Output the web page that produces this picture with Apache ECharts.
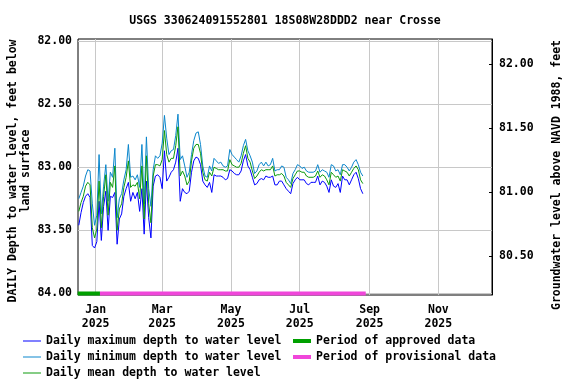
<!DOCTYPE html>
<html><head><meta charset="utf-8">
<script src="https://cdn.jsdelivr.net/npm/echarts@6/dist/echarts.min.js"></script>
<style>html,body{margin:0;padding:0;background:#fff}#c{width:576px;height:384px}</style>
</head><body><div id="c"></div>
<script>
const chartTitle = 'USGS 330624091552801 18S08W28DDD2 near Crosse';
const leftName1 = 'DAILY Depth to water level, feet below';
const leftName2 = 'land surface';
const rightName = 'Groundwater level above NAVD 1988, feet';

// daily samples, every 2nd day starting 2024-12-17
const firstSample = Date.UTC(2024, 11, 17);
const stepDays = 2;

const minDepth = [
83.25,83.20,83.15,83.07,83.02,83.03,83.29,83.46,83.38,82.90,
83.37,83.15,82.98,83.27,83.04,83.08,82.85,83.40,83.25,83.21,
83.10,83.02,82.82,83.08,83.07,83.10,83.06,83.16,82.82,83.29,
82.76,83.17,83.31,83.02,82.91,82.93,82.91,82.81,82.59,82.77,
82.90,82.87,82.86,82.75,82.58,82.94,82.91,82.99,83.08,83.04,
82.90,82.79,82.73,82.72,82.82,82.99,83.07,83.08,82.99,83.03,
82.93,82.95,82.97,82.96,82.99,83.00,82.99,82.86,82.90,82.92,
82.94,82.96,82.91,82.83,82.78,82.87,82.91,82.96,83.05,83.03,
82.98,82.96,82.99,82.96,82.99,82.98,82.93,83.03,83.02,83.02,
82.99,83.00,83.08,83.10,83.13,83.05,83.02,82.98,82.99,83.01,
83.00,83.03,83.04,83.04,83.04,83.03,82.98,83.04,83.02,83.03,
83.04,83.08,82.98,82.99,83.03,83.02,83.06,82.98,82.98,83.00,
83.03,83.00,82.96,82.94,82.98,83.04,83.07];

const meanDepth = [
83.35,83.28,83.23,83.15,83.12,83.14,83.48,83.56,83.49,83.11,
83.48,83.23,83.06,83.38,83.12,83.16,82.99,83.50,83.33,83.29,
83.16,83.08,82.95,83.16,83.14,83.15,83.12,83.25,82.99,83.41,
82.91,83.29,83.44,83.07,82.98,82.98,82.99,82.94,82.71,82.90,
82.96,82.93,82.93,82.83,82.68,83.07,83.03,83.07,83.14,83.11,
82.95,82.85,82.82,82.82,82.89,83.04,83.10,83.11,83.04,83.07,
83.00,83.01,83.02,83.02,83.02,83.03,83.03,82.94,82.98,82.99,
83.00,83.00,82.97,82.89,82.83,82.93,82.96,83.03,83.09,83.07,
83.04,83.02,83.03,83.02,83.02,83.02,82.99,83.07,83.06,83.06,
83.05,83.07,83.12,83.14,83.16,83.09,83.06,83.03,83.03,83.04,
83.04,83.07,83.08,83.08,83.08,83.07,83.03,83.08,83.06,83.07,
83.10,83.14,83.04,83.06,83.08,83.07,83.11,83.02,83.03,83.04,
83.07,83.04,83.01,82.99,83.02,83.10,83.13];

const maxDepth = [
83.46,83.36,83.28,83.23,83.21,83.24,83.62,83.64,83.59,83.27,
83.58,83.31,83.19,83.50,83.23,83.24,83.20,83.61,83.41,83.37,
83.23,83.17,83.12,83.27,83.20,83.25,83.20,83.35,83.17,83.53,
83.11,83.40,83.56,83.15,83.07,83.06,83.08,83.17,82.87,83.11,
83.08,83.04,83.02,82.96,82.85,83.27,83.17,83.20,83.21,83.19,
83.04,82.95,82.92,82.93,82.98,83.11,83.14,83.16,83.12,83.20,
83.06,83.07,83.07,83.07,83.08,83.10,83.09,83.02,83.03,83.05,
83.06,83.06,83.03,82.95,82.90,82.99,83.02,83.08,83.14,83.13,
83.10,83.09,83.10,83.07,83.08,83.08,83.07,83.14,83.14,83.11,
83.11,83.14,83.17,83.19,83.21,83.13,83.10,83.08,83.10,83.10,
83.10,83.13,83.14,83.12,83.12,83.12,83.07,83.14,83.11,83.12,
83.15,83.20,83.10,83.15,83.16,83.13,83.20,83.07,83.10,83.10,
83.14,83.10,83.06,83.04,83.09,83.17,83.21];

const leftTicks = [82, 82.5, 83, 83.5, 84];
const rightTicks = [80.5, 81, 81.5, 82];
const monthTicks = [Date.UTC(2025,0,1), Date.UTC(2025,2,1), Date.UTC(2025,4,1), Date.UTC(2025,6,1), Date.UTC(2025,8,1), Date.UTC(2025,10,1)];
const monthLabels = ['Jan\n2025','Mar\n2025','May\n2025','Jul\n2025','Sep\n2025','Nov\n2025'];
const approvedPeriod = [Date.UTC(2024,11,16,0), Date.UTC(2025,0,4,19)];
const provisionalPeriod = [Date.UTC(2025,0,4,19), Date.UTC(2025,7,28,14)];
const periodDepth = 84;

const DAY = 86400000;
const dates = maxDepth.map((_, i) => firstSample + i * stepDays * DAY);
const xMin = Date.UTC(2025,0,1) - 15.7 * DAY;
const xMax = xMin + 367.3 * DAY;

const FONT = 'DejaVu Sans Mono';
const FS = 11.5;
const txt = {fontFamily: FONT, fontSize: FS, fontWeight: 'bold', color: '#000'};

const chart = echarts.init(document.getElementById('c'), null, {renderer: 'canvas'});
chart.setOption({
  animation: false,
  backgroundColor: '#fff',
  grid: {left: 78, right: 84, top: 39, bottom: 89, show: true, borderColor: '#000', borderWidth: 1, backgroundColor: 'transparent'},
  xAxis: {
    type: 'value', min: xMin, max: xMax, scale: true,
    axisLine: {show: false},
    axisTick: {show: false, customValues: monthTicks},
    axisLabel: Object.assign({customValues: monthTicks, margin: 8, lineHeight: 14, align: 'center',
      formatter: v => { const i = monthTicks.indexOf(v); return i >= 0 ? monthLabels[i] : ''; }}, txt),
    splitLine: {show: true, lineStyle: {color: '#c8c8c8', width: 1}}
  },
  yAxis: [
    {type: 'value', inverse: true, min: 81.985, max: 84.012, position: 'left',
     axisLine: {show: false},
     axisTick: {show: false, customValues: leftTicks},
     axisLabel: Object.assign({customValues: leftTicks, margin: 6, formatter: v => v.toFixed(2)}, txt),
     splitLine: {show: true, lineStyle: {color: '#c8c8c8', width: 1}}},
    {type: 'value', min: 80.198, max: 82.196, position: 'right',
     axisLine: {show: true, lineStyle: {color: '#000', width: 1}},
     axisTick: {show: true, inside: true, length: 3, lineStyle: {color: '#000'}, customValues: rightTicks},
     axisLabel: Object.assign({customValues: rightTicks, margin: 7, formatter: v => v.toFixed(2)}, txt),
     splitLine: {show: false}}
  ],
  legend: [
    {orient: 'vertical', left: 23, top: 334, padding: 0, itemWidth: 18, itemHeight: 1, itemGap: 2, icon: 'rect', selectedMode: false,
     textStyle: Object.assign({lineHeight: 14}, txt),
     data: ['Daily maximum depth to water level', 'Daily minimum depth to water level', 'Daily mean depth to water level']},
    {orient: 'vertical', left: 293, top: 334, padding: 0, itemWidth: 18, itemHeight: 4, itemGap: 2, icon: 'rect', selectedMode: false,
     textStyle: Object.assign({lineHeight: 14}, txt),
     data: ['Period of approved data', 'Period of provisional data']}
  ],
  graphic: [
    {type: 'text', x: 285, y: 21, style: {text: chartTitle, fontFamily: FONT, fontSize: FS, fontWeight: 'bold', fill: '#000', align: 'center', verticalAlign: 'middle'}},
    {type: 'text', x: 13, y: 171, rotation: Math.PI / 2, style: {text: leftName1, fontFamily: FONT, fontSize: FS, fontWeight: 'bold', fill: '#000', align: 'center', verticalAlign: 'middle'}},
    {type: 'text', x: 26, y: 171, rotation: Math.PI / 2, style: {text: leftName2, fontFamily: FONT, fontSize: FS, fontWeight: 'bold', fill: '#000', align: 'center', verticalAlign: 'middle'}},
    {type: 'text', x: 557, y: 175, rotation: Math.PI / 2, style: {text: rightName, fontFamily: FONT, fontSize: FS, fontWeight: 'bold', fill: '#000', align: 'center', verticalAlign: 'middle'}}
  ],
  series: [
    {name: 'Daily maximum depth to water level', type: 'line', yAxisIndex: 0, symbol: 'none',
     data: dates.map((t, i) => [t, maxDepth[i]]), lineStyle: {color: '#0000ff', width: 1}, itemStyle: {color: '#0000ff'}},
    {name: 'Daily minimum depth to water level', type: 'line', yAxisIndex: 0, symbol: 'none',
     data: dates.map((t, i) => [t, minDepth[i]]), lineStyle: {color: '#0a86cc', width: 1}, itemStyle: {color: '#0a86cc'}},
    {name: 'Daily mean depth to water level', type: 'line', yAxisIndex: 0, symbol: 'none',
     data: dates.map((t, i) => [t, meanDepth[i]]), lineStyle: {color: '#0c9a0c', width: 1}, itemStyle: {color: '#0c9a0c'}},
    {name: 'Period of approved data', type: 'line', yAxisIndex: 0, symbol: 'none', clip: false,
     data: approvedPeriod.map(t => [t, periodDepth]), lineStyle: {color: '#00a000', width: 4}, itemStyle: {color: '#00a000'}},
    {name: 'Period of provisional data', type: 'line', yAxisIndex: 0, symbol: 'none', clip: false,
     data: provisionalPeriod.map(t => [t, periodDepth]), lineStyle: {color: '#f046da', width: 4}, itemStyle: {color: '#f046da'}}
  ]
});
</script>
</body></html>
